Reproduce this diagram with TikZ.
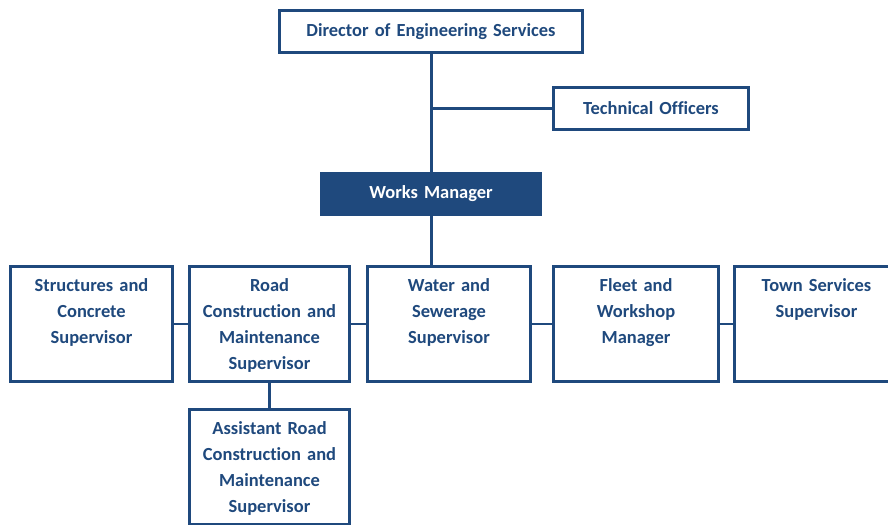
\documentclass[tikz,border=0pt]{standalone}
\usepackage{fontspec}
\setmainfont{Carlito}[RawFeature={-liga}]
\usetikzlibrary{positioning}
\definecolor{esblue}{RGB}{31,73,125}

\begin{document}
\begin{tikzpicture}[
  post/.style={rectangle, draw=esblue, line width=1.7pt, fill=white,
    inner sep=0pt, text width=#1, align=center, text=esblue,
    font=\bfseries\fontsize{10.5}{14.8}\selectfont},
  head/.style={post=#1, minimum height=0.84cm},
  unit/.style={post=#1, text height=0.5cm, text depth=1.8cm},
  link/.style={draw=esblue, line width=1.7pt}]
\useasboundingbox (0,0) rectangle (17.76,10.48);
% Top of the chart
\node[head=6.06cm] (dir) at (8.62,9.85) {Director of Engineering Services};
\node[head=3.9cm] (tech) at (13.02,8.31) {Technical Officers};
\node[head=4.38cm, fill=esblue, text=white] (works) at (8.62,6.6) {Works Manager};
% Supervisors
\node[unit=3.24cm] (struct) at (1.83,4.0) {Structures and\\Concrete\\Supervisor};
\node[unit=3.2cm] (road) at (5.39,4.0) {Road\\Construction and\\Maintenance\\Supervisor};
\node[unit=3.26cm] (water) at (8.98,4.0) {Water and\\Sewerage\\Supervisor};
\node[unit=3.3cm] (fleet) at (12.72,4.0) {Fleet and\\Workshop\\Manager};
\node[unit=3.28cm] (town) at (16.33,4.0) {Town Services\\Supervisor};
\node[unit=3.2cm, below=0.5cm of road] (asst) {Assistant Road\\Construction and\\Maintenance\\Supervisor};
% Lines
\draw[link] (dir.south) -- (works.north);
\draw[link] (tech.west) -- (tech.west -| dir.south);
\draw[link] (works.south) -- (works.south |- water.north);
\draw[link] (struct.east) -- (road.west);
\draw[link] (road.east) -- (water.west);
\draw[link] (water.east) -- (fleet.west);
\draw[link] (fleet.east) -- (town.west);
\draw[link] (road.south) -- (asst.north);
\end{tikzpicture}
\end{document}
